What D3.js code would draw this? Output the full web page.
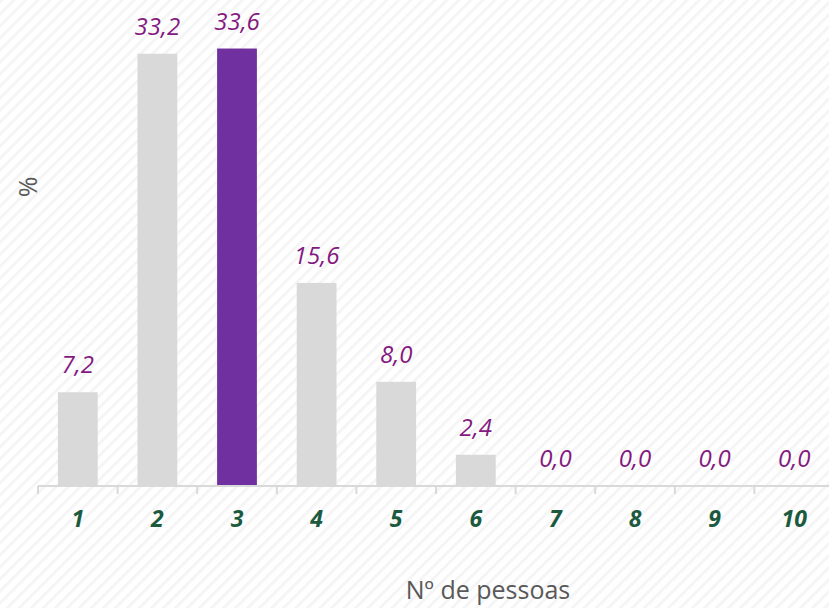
<!DOCTYPE html>
<html>
<head>
<meta charset="utf-8">
<script src="https://cdn.jsdelivr.net/npm/d3@7"></script>
<style>
  html, body { margin: 0; padding: 0; background: #fff; overflow: hidden; }
  svg { display: block; }
</style>
</head>
<body>
<script>
const categories = ["1", "2", "3", "4", "5", "6", "7", "8", "9", "10"];
const values = [7.2, 33.2, 33.6, 15.6, 8.0, 2.4, 0.0, 0.0, 0.0, 0.0];
const highlight = "3";

const width = 829;
const height = 608;
const margin = { top: 30, right: -5, bottom: 122, left: 38 };

const svg = d3.select("body").append("svg")
  .attr("width", width)
  .attr("height", height)
  .attr("viewBox", [0, 0, width, height]);

// striped background
const defs = svg.append("defs");
const pat = defs.append("pattern")
  .attr("id", "stripes")
  .attr("patternUnits", "userSpaceOnUse")
  .attr("width", 8.5)
  .attr("height", 8.5)
  .attr("patternTransform", "rotate(45)");
pat.append("rect").attr("width", 8.5).attr("height", 8.5).attr("fill", "#ffffff");
pat.append("rect").attr("x", 0).attr("width", 3).attr("height", 8.5).attr("fill", "#f5f5f5");

svg.append("rect")
  .attr("width", width)
  .attr("height", height)
  .attr("fill", "url(#stripes)");

const x = d3.scaleBand()
  .domain(categories)
  .range([margin.left, width - margin.right])
  .paddingInner(0.5)
  .paddingOuter(0.25);

const y = d3.scaleLinear()
  .domain([0, 35])
  .range([height - margin.bottom, height - margin.bottom - 35 * 13.02]);

const fmt = v => v.toFixed(1).replace(".", ",");

// bars
svg.append("g")
  .selectAll("rect")
  .data(categories)
  .join("rect")
  .attr("x", d => x(d))
  .attr("y", (d, i) => y(values[i]))
  .attr("width", x.bandwidth())
  .attr("height", (d, i) => y(0) - y(values[i]))
  .attr("fill", d => d === highlight ? "#7030a0" : "#d9d9d9");

// value labels
svg.append("g")
  .selectAll("text")
  .data(categories)
  .join("text")
  .attr("x", d => x(d) + x.bandwidth() / 2)
  .attr("y", (d, i) => y(values[i]) - 19)
  .attr("text-anchor", "middle")
  .attr("font-family", "'Open Sans', sans-serif")
  .attr("font-style", "italic")
  .attr("font-size", 24)
  .attr("fill", "#84197f")
  .text((d, i) => fmt(values[i]));

// x axis
const xAxis = svg.append("g")
  .attr("transform", `translate(0,${y(0)})`)
  .call(d3.axisBottom(x).tickSize(0).tickPadding(25));
xAxis.select(".domain")
  .attr("stroke", "#d9d9d9")
  .attr("stroke-width", 2)
  .attr("d", `M${margin.left},0H${width - margin.right}`);
xAxis.selectAll(".tick text")
  .attr("font-family", "'Open Sans', sans-serif")
  .attr("font-style", "italic")
  .attr("font-weight", "bold")
  .attr("font-size", 23)
  .attr("fill", "#1b5a3e")
  .attr("dy", "0.71em");

// boundary ticks between categories
const gap = x.step() - x.bandwidth();
const bounds = categories.map(c => x(c) - gap / 2);
xAxis.append("g")
  .selectAll("line")
  .data(bounds)
  .join("line")
  .attr("x1", d => d)
  .attr("x2", d => d)
  .attr("y1", 0)
  .attr("y2", 8)
  .attr("stroke", "#d9d9d9")
  .attr("stroke-width", 2);

// axis titles
svg.append("text")
  .attr("x", 488)
  .attr("y", 599)
  .attr("text-anchor", "middle")
  .attr("font-family", "'Open Sans', sans-serif")
  .attr("font-size", 25)
  .attr("fill", "#595959")
  .text("Nº de pessoas");

svg.append("text")
  .attr("transform", "translate(37,187) rotate(-90)")
  .attr("text-anchor", "middle")
  .attr("font-family", "'Open Sans', sans-serif")
  .attr("font-size", 25)
  .attr("fill", "#595959")
  .text("%");
</script>
</body>
</html>
